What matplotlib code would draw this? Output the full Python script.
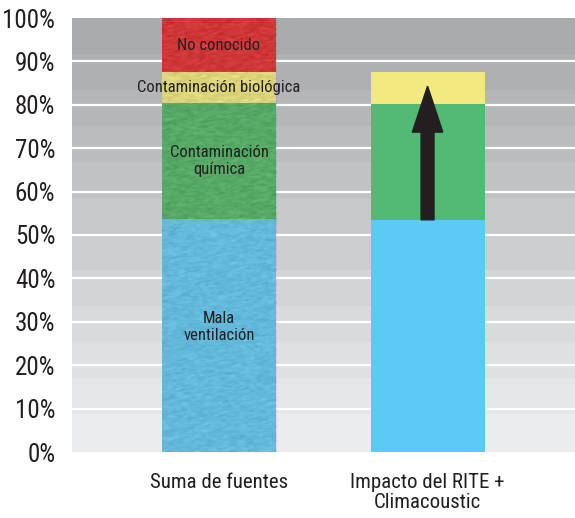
import matplotlib.pyplot as plt
from matplotlib.patches import FancyArrow
import numpy as np

categories = ["Suma de fuentes", "Impacto del RITE +\nClimacoustic"]
segment_names = ["Mala\nventilación", "Contaminación\nquímica", "Contaminación biológica", "No conocido"]
suma_values = [53.7, 26.7, 7.1, 12.5]
rite_values = [53.5, 26.7, 7.3, 0.0]
arrow_start, arrow_end = 53.5, 84.3
yticks = [0, 10, 20, 30, 40, 50, 60, 70, 80, 90, 100]

textured = ["#5cc3ea", "#4fb262", "#efe67c", "#e02b2d"]
flat = ["#5bcbf6", "#52ba72", "#f0ea80", "#e02b2d"]
ink = "#231f20"
fam = ["Roboto Condensed", "Liberation Sans Narrow", "DejaVu Sans Condensed", "Roboto", "DejaVu Sans"]

fig = plt.figure(figsize=(5.75, 5.18), dpi=100)
ax = fig.add_axes([72 / 575, 66 / 518, 1 - 72 / 575, 434 / 518])
ax.set_xlim(-0.705, 1.707)
ax.set_ylim(0, 100)

# stepped grey background, darker at the top
nb = 12
shades = np.linspace(0.665, 0.925, nb)
bg = np.repeat(shades[:, None], 2, axis=1)
bg = np.dstack([bg, bg + 0.003, bg + 0.012])
ax.imshow(np.clip(bg, 0, 1), extent=(-0.705, 1.707, 100 - nb * 8.29, 100),
          aspect="auto", zorder=0, interpolation="nearest")
ax.axhspan(0, 100 - nb * 8.29, color="#ebebed", zorder=0)

for v in yticks[1:-1]:
    ax.axhline(v, color="white", lw=1.6, zorder=1)

w = 0.547
bottom = 0
rng = np.random.default_rng(3)
for val, col, name in zip(suma_values, textured, segment_names):
    bar = ax.bar(0, val, w, bottom=bottom, color=col, zorder=2)[0]
    # grain on the left column
    noise = rng.normal(0, 1, (int(val * 4) + 2, 40))
    noise = (noise + np.roll(noise, 1, 0) + np.roll(noise, 1, 1)) / 3
    ax.imshow(noise, cmap="gray", alpha=0.16, extent=(-w / 2, w / 2, bottom, bottom + val),
              aspect="auto", zorder=3, clip_path=bar, clip_on=True, interpolation="bilinear")
    ty = bottom + val / 2
    if name.startswith("Mala"):
        ty = 28.8
    ax.text(0, ty, name, ha="center", va="center", fontsize=12, color=ink,
            family=fam, stretch="condensed", linespacing=1.15, zorder=4)
    bottom += val

bottom = 0
for val, col in zip(rite_values, flat):
    ax.bar(1, val, w, bottom=bottom, color=col, zorder=2)
    bottom += val

ax.add_patch(FancyArrow(1, arrow_start, 0, arrow_end - arrow_start, width=0.062,
                        head_width=0.146, head_length=10.6, length_includes_head=True,
                        color=ink, zorder=5))

ax.set_yticks(yticks)
ax.set_yticklabels([f"{v}%" for v in yticks], family=fam, stretch="condensed",
                   fontsize=18, color=ink)
ax.set_xticks([0, 1])
ax.set_xticklabels(categories, family=fam, stretch="condensed",
                   fontsize=15, color=ink, linespacing=1.05)
ax.tick_params(axis="y", length=0, pad=12)
ax.tick_params(axis="x", length=0, pad=15)
for s in ax.spines.values():
    s.set_visible(False)

fig.savefig("out.png", dpi=100)
